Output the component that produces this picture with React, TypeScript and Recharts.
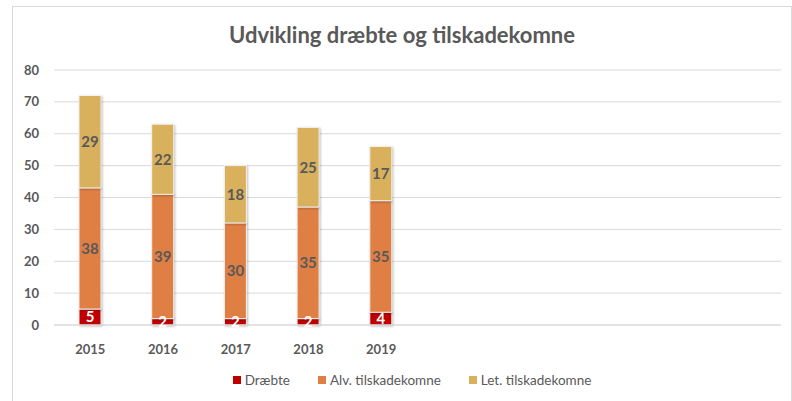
import { Bar, BarChart, CartesianGrid, LabelList, XAxis, YAxis } from "recharts";

const years = ["2015", "2016", "2017", "2018", "2019"];
const draebte = [5, 2, 2, 2, 4];
const alvorlige = [38, 39, 30, 35, 35];
const lette = [29, 22, 18, 25, 17];
const yTicks = [0, 10, 20, 30, 40, 50, 60, 70, 80];

// the original axis reserves room for five more (empty) years
const emptySlots = 5;

const data = [
  ...years.map((year, i) => ({
    year,
    draebte: draebte[i],
    alvorlige: alvorlige[i],
    lette: lette[i],
  })),
  ...Array.from({ length: emptySlots }, () => ({ year: "" })),
];

const series = [
  { key: "draebte", name: "Dræbte", color: "#C00000", label: "#fff" },
  { key: "alvorlige", name: "Alv. tilskadekomne", color: "#E07F44", label: "#595959" },
  { key: "lette", name: "Let. tilskadekomne", color: "#D9B05C", label: "#595959" },
];

const gray = "#595959";
const font = "Lato, 'Open Sans', sans-serif";

export default function App() {
  return (
    <div
      style={{
        position: "absolute",
        left: 12,
        top: 6,
        width: 778,
        height: 396,
        border: "1px solid #d9d9d9",
        background: "#fff",
        fontFamily: font,
      }}
    >
      <style>{`.recharts-bar-rectangle path { filter: drop-shadow(1px 1px 1px rgba(0,0,0,0.25)); }`}</style>
      <div
        style={{
          position: "absolute",
          left: 0,
          right: 0,
          top: 14,
          textAlign: "center",
          fontSize: 22,
          fontWeight: 700,
          color: gray,
        }}
      >
        Udvikling dræbte og tilskadekomne
      </div>
      <BarChart
        width={776}
        height={394}
        data={data}
        margin={{ top: 63, right: 8, bottom: 46, left: 0 }}
        barSize={22}
      >
        <CartesianGrid stroke="#d9d9d9" vertical={false} />
        <XAxis
          dataKey="year"
          tickLine={false}
          axisLine={{ stroke: "#d9d9d9" }}
          tickMargin={14}
          tick={{ fill: gray, fontSize: 13, fontWeight: 700 }}
          interval={0}
        />
        <YAxis
          width={41}
          domain={[0, 80]}
          ticks={yTicks}
          tickLine={false}
          axisLine={false}
          tickSize={0}
          tickMargin={15}
          tick={{ fill: gray, fontSize: 13, fontWeight: 700 }}
        />
        {series.map((s) => (
          <Bar
            key={s.key}
            dataKey={s.key}
            name={s.name}
            stackId="a"
            fill={s.color}
            stroke="#f2f2f2"
            strokeWidth={1}
            isAnimationActive={false}
          >
            <LabelList dataKey={s.key} position="center" fill={s.label} fontSize={15} fontWeight={700} />
          </Bar>
        ))}
      </BarChart>
      <div
        style={{
          position: "absolute",
          left: 0,
          right: 0,
          top: 365,
          display: "flex",
          justifyContent: "center",
          gap: 28,
          fontSize: 13.5,
          color: gray,
          marginLeft: 20,
        }}
      >
        {series.map((s) => (
          <span key={s.key} style={{ display: "flex", alignItems: "center" }}>
            <span style={{ width: 8, height: 8, background: s.color, marginRight: 4, display: "inline-block" }} />
            {s.name}
          </span>
        ))}
      </div>
    </div>
  );
}
